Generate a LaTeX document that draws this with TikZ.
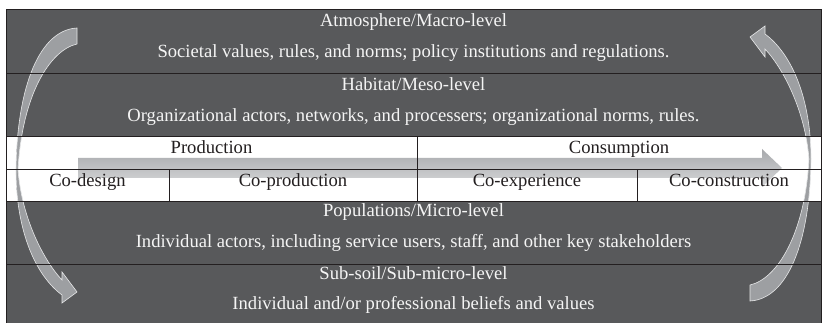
\documentclass[tikz,border=0pt]{standalone}
\usepackage{fontspec}
\setmainfont{Liberation Serif}
\usepackage{xcolor}
\usepackage{tikz}
\usetikzlibrary{positioning, arrows.meta}
\pgfdeclarelayer{back}
\pgfdeclarelayer{mid}
\pgfsetlayers{back,mid,main}
\definecolor{darkrow}{HTML}{58595B}
\definecolor{gridcol}{HTML}{231F20}
\definecolor{flowgray}{HTML}{A7A9AC}
\definecolor{bandgray}{HTML}{9D9FA2}

\begin{document}
\begin{tikzpicture}[
  x=1pt, y=-1pt,
  node distance=0pt,
  every node/.style={inner sep=0pt, outer sep=0pt},
  levelrow/.style={draw=gridcol, line width=0.9pt, minimum width=815pt, minimum height=#1},
  cell/.style={draw=gridcol, line width=0.9pt, minimum height=#1},
  lvltext/.style={anchor=base, text=white!96!black, font=\fontsize{18.6}{20}\selectfont},
  celltext/.style={anchor=base, text=gridcol, font=\fontsize{18.6}{20}\selectfont},
  flow/.style={top color=flowgray, bottom color=flowgray!45},
  loopband/.style={draw=white!75!bandgray, line width=0.6pt, top color=bandgray, middle color=bandgray!25, bottom color=bandgray},
  loopshape/.style={insert path={(77,28) .. controls (40,30) and (17,85) .. (16,170)
    .. controls (16,230) and (35,275) .. (62,295) -- (62,303) -- (77,292) -- (62,272) -- (62,280)
    .. controls (45,262) and (22,220) .. (18,170) .. controls (22,95) and (50,50) .. (77,44) -- cycle}}
]

% Page
\begin{pgfonlayer}{back}
  \fill[white] (0,0) rectangle (823,323);
\end{pgfonlayer}
\useasboundingbox (0,0) rectangle (823,323);

% Levels
\node[levelrow=64pt, anchor=north west] (atmos) at (6,9) {};
\node[levelrow=63pt, below=of atmos] (habitat) {};

% Service phases
\node[cell=33pt, minimum width=411pt, anchor=north west] (prod) at (habitat.south west) {};
\node[cell=33pt, minimum width=404pt, right=of prod] (cons) {};
\node[cell=32pt, minimum width=163pt, anchor=north west] (codesign) at (prod.south west) {};
\node[cell=32pt, minimum width=248pt, right=of codesign] (coprod) {};
\node[cell=32pt, minimum width=220pt, right=of coprod] (coexp) {};
\node[cell=32pt, minimum width=184pt, right=of coexp] (cocons) {};

% Lower levels
\node[levelrow=63pt, anchor=north west] (popul) at (codesign.south west) {};
\node[levelrow=60pt, below=of popul] (subsoil) {};

\begin{pgfonlayer}{back}
  \fill[darkrow] (atmos.north west) rectangle (habitat.south east);
  \fill[darkrow] (popul.north west) rectangle (subsoil.south east);
\end{pgfonlayer}

% Arrows
\begin{pgfonlayer}{mid}
  \path[flow] (78,158) -- (762,158) -- (762,149) -- (782,168) -- (762,187) -- (762,178) -- (78,178) -- cycle;
  \path[loopband, loopshape];
  \path[loopband, rotate around={180:(413.5,164.5)}, loopshape];
\end{pgfonlayer}

% Level texts
\node[lvltext] (atmtitle) at ([yshift=-18pt]atmos.north) {Atmosphere/Macro-level};
\node[lvltext] (atmtext) at ([yshift=-49pt]atmos.north) {Societal values, rules, and norms; policy institutions and regulations.};
\node[lvltext] (habtitle) at ([yshift=-18pt]habitat.north) {Habitat/Meso-level};
\node[lvltext] (habtext) at ([yshift=-49pt]habitat.north) {Organizational actors, networks, and processers; organizational norms, rules.};
\node[lvltext] (popultitle) at ([yshift=-16pt]popul.north) {Populations/Micro-level};
\node[lvltext] (popultext) at ([yshift=-47pt]popul.north) {Individual actors, including service users, staff, and other key stakeholders};
\node[lvltext] (subtitle) at ([yshift=-16pt]subsoil.north) {Sub-soil/Sub-micro-level};
\node[lvltext] (subtext) at ([yshift=-46pt]subsoil.north) {Individual and/or professional beliefs and values};

% Phase texts
\node[celltext] (prodlbl) at ([yshift=-18pt]prod.north) {Production};
\node[celltext] (conslbl) at ([yshift=-18pt]cons.north) {Consumption};
\node[celltext] (codesignlbl) at ([yshift=-18pt]codesign.north) {Co-design};
\node[celltext] (coprodlbl) at ([yshift=-18pt]coprod.north) {Co-production};
\node[celltext] (coexplbl) at ([yshift=-18pt]coexp.north) {Co-experience};
\node[celltext] (coconslbl) at ([yshift=-18pt]cocons.north) {Co-construction};

\end{tikzpicture}
\end{document}
